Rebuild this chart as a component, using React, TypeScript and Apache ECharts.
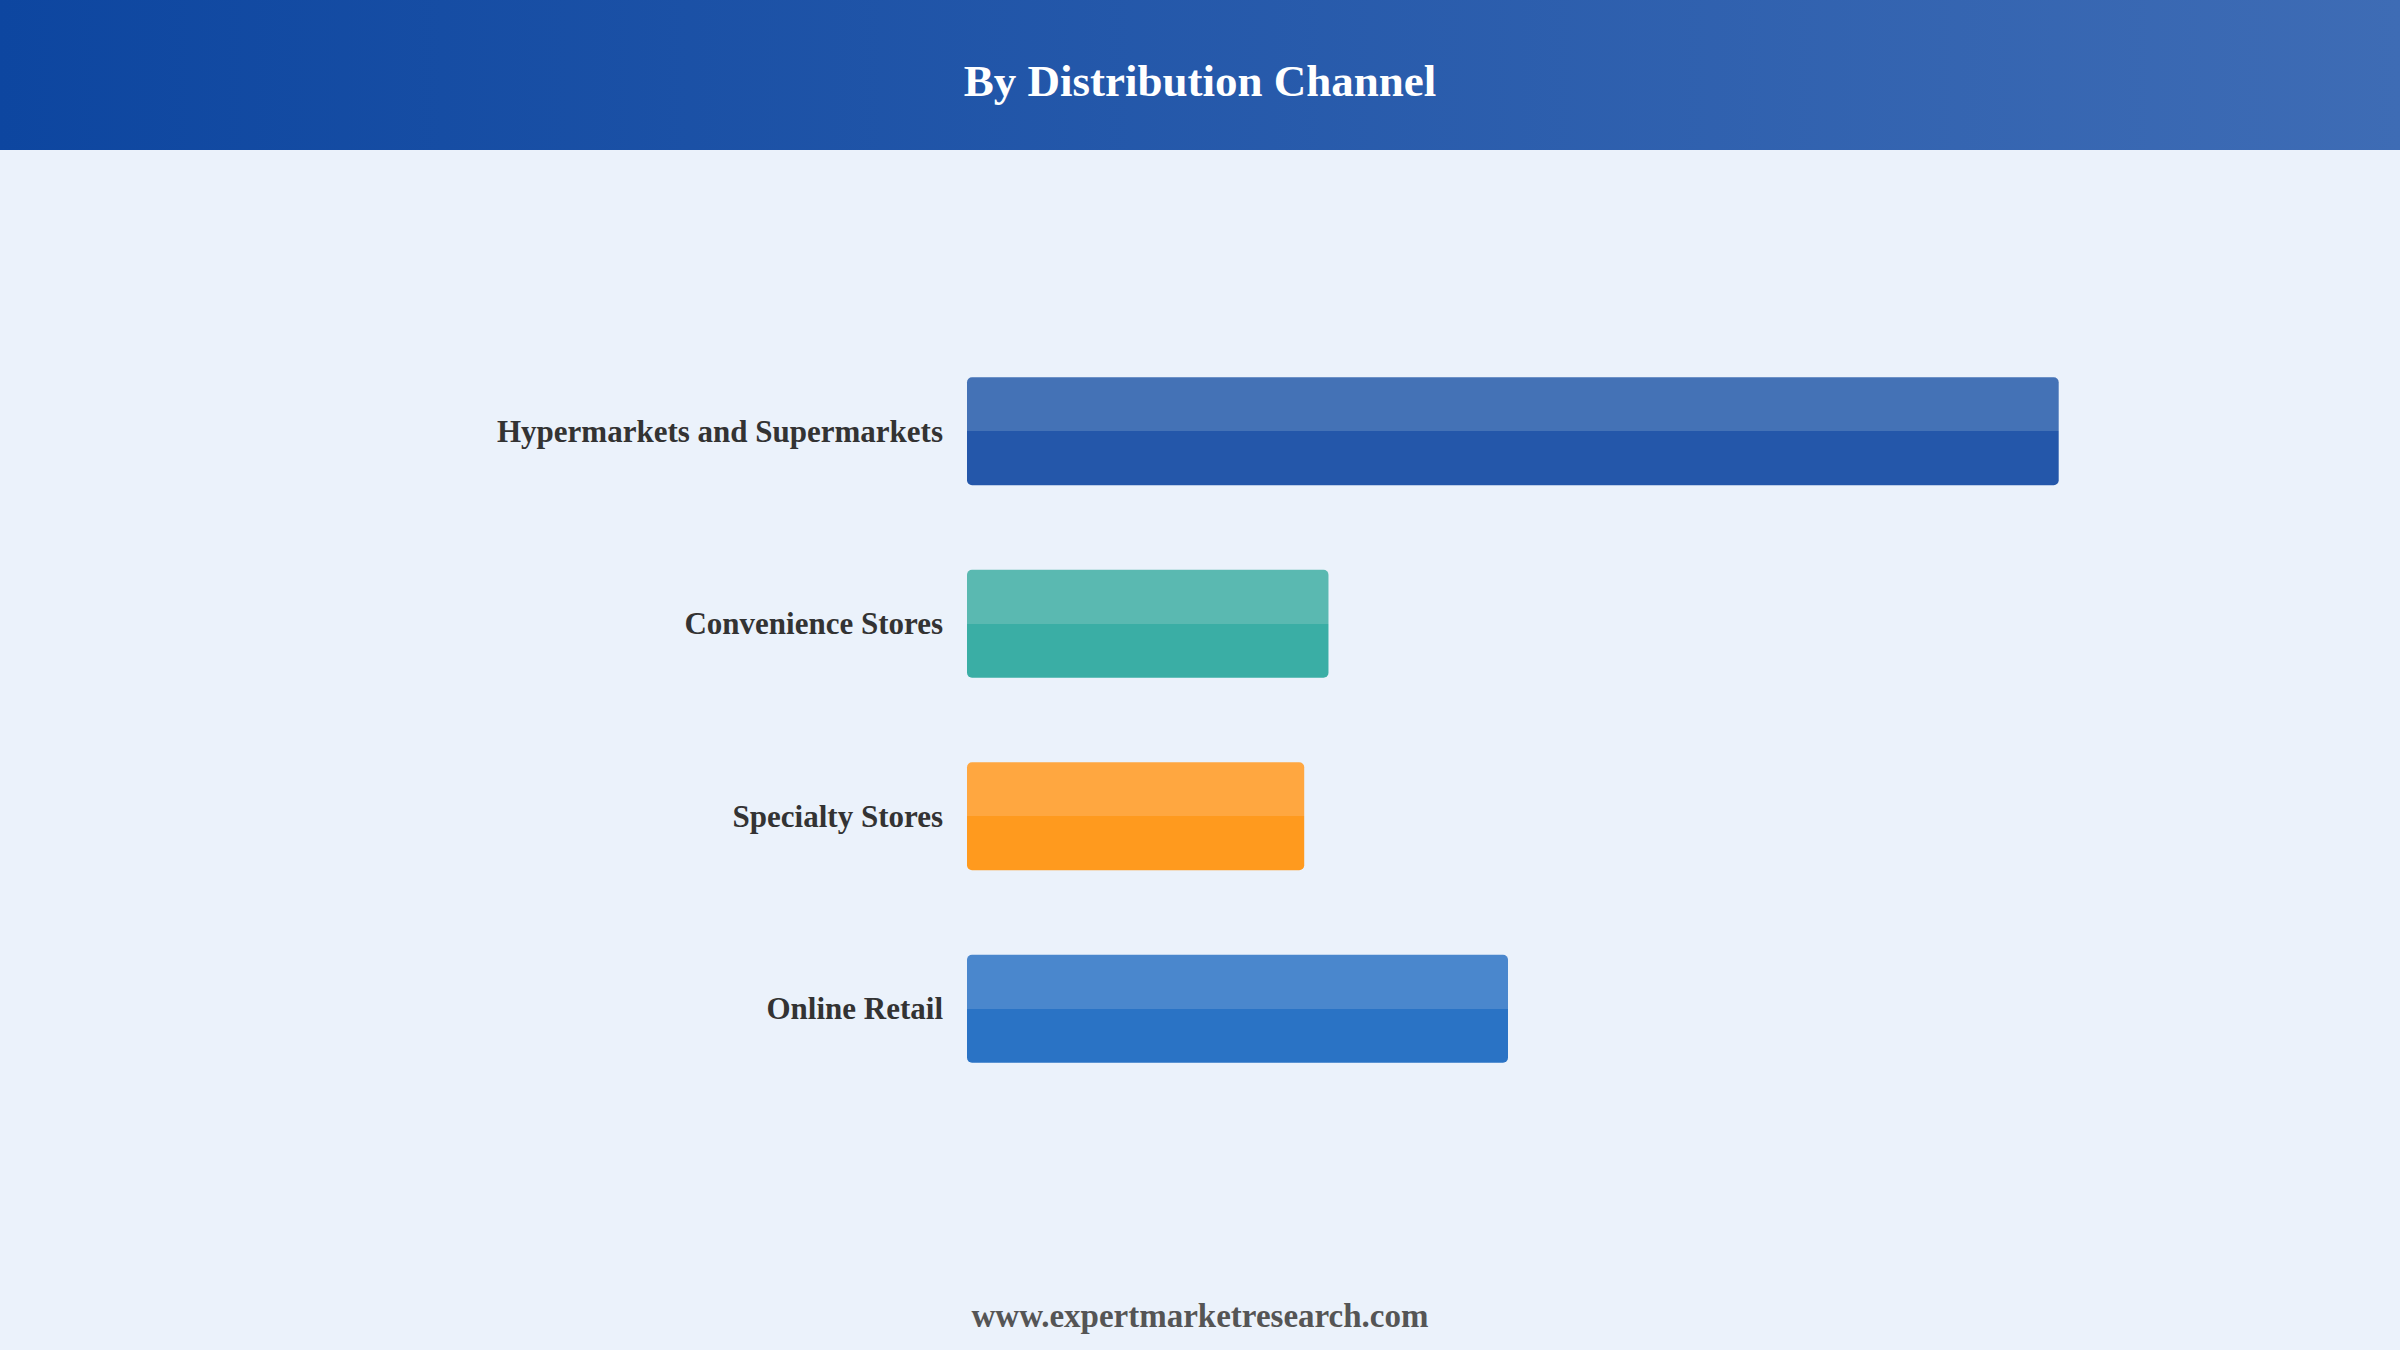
import { useRef, useEffect } from "react";
import * as echarts from "echarts";

const categories = [
  "Hypermarkets and Supermarkets",
  "Convenience Stores",
  "Specialty Stores",
  "Online Retail",
];

// estimated shares
const values = [45, 14.9, 13.9, 22.3];

// [upper half, lower half]
const barColors: [string, string][] = [
  ["#4472b6", "#2457aa"],
  ["#5ab9b1", "#3aaea5"],
  ["#ffa740", "#ff9a1e"],
  ["#4a87cd", "#2a73c5"],
];

const FONT = "'Liberation Serif', 'Times New Roman', serif";

export default function App() {
  const chartRef = useRef<HTMLDivElement>(null);

  useEffect(() => {
    document.body.style.margin = "0";
    if (!chartRef.current) return;
    const chart = echarts.init(chartRef.current, null, { renderer: "svg" });

    chart.setOption({
      animation: false,
      backgroundColor: "#ebf2fb",
      graphic: [
        {
          type: "rect",
          left: 0,
          top: 0,
          z: 0,
          shape: { width: 2400, height: 150 },
          style: {
            fill: new echarts.graphic.LinearGradient(0, 0, 1, 0, [
              { offset: 0, color: "#0d46a0" },
              { offset: 1, color: "#3e6cb5" },
            ]),
          },
        },
        {
          type: "text",
          x: 1200,
          y: 81,
          z: 10,
          style: {
            text: "By Distribution Channel",
            fill: "#ffffff",
            font: `bold 45px ${FONT}`,
            textAlign: "center",
            textVerticalAlign: "middle",
          },
        },
        {
          type: "text",
          x: 1200,
          y: 1316,
          z: 10,
          style: {
            text: "www.expertmarketresearch.com",
            fill: "#555555",
            font: `bold 33px ${FONT}`,
            textAlign: "center",
            textVerticalAlign: "middle",
          },
        },
      ],
      grid: { left: 967, right: 220, top: 335, bottom: 245 },
      xAxis: {
        type: "value",
        min: 0,
        max: 50,
        show: false,
      },
      yAxis: {
        type: "category",
        inverse: true,
        data: categories,
        axisLine: { show: false },
        axisTick: { show: false },
        splitLine: { show: false },
        axisLabel: {
          margin: 24,
          color: "#333333",
          fontSize: 31,
          fontWeight: "bold",
          fontFamily: FONT,
          padding: [3, 0, 0, 0],
        },
      },
      series: [
        {
          type: "bar",
          barWidth: 108,
          data: values.map((v, i) => ({
            value: v,
            itemStyle: {
              borderRadius: 5,
              color: new echarts.graphic.LinearGradient(0, 0, 0, 1, [
                { offset: 0, color: barColors[i][0] },
                { offset: 0.5, color: barColors[i][0] },
                { offset: 0.5, color: barColors[i][1] },
                { offset: 1, color: barColors[i][1] },
              ]),
            },
          })),
          label: { show: false },
        },
      ],
    });

    return () => {
      chart.dispose();
    };
  }, []);

  return <div ref={chartRef} style={{ width: 2400, height: 1350 }} />;
}
